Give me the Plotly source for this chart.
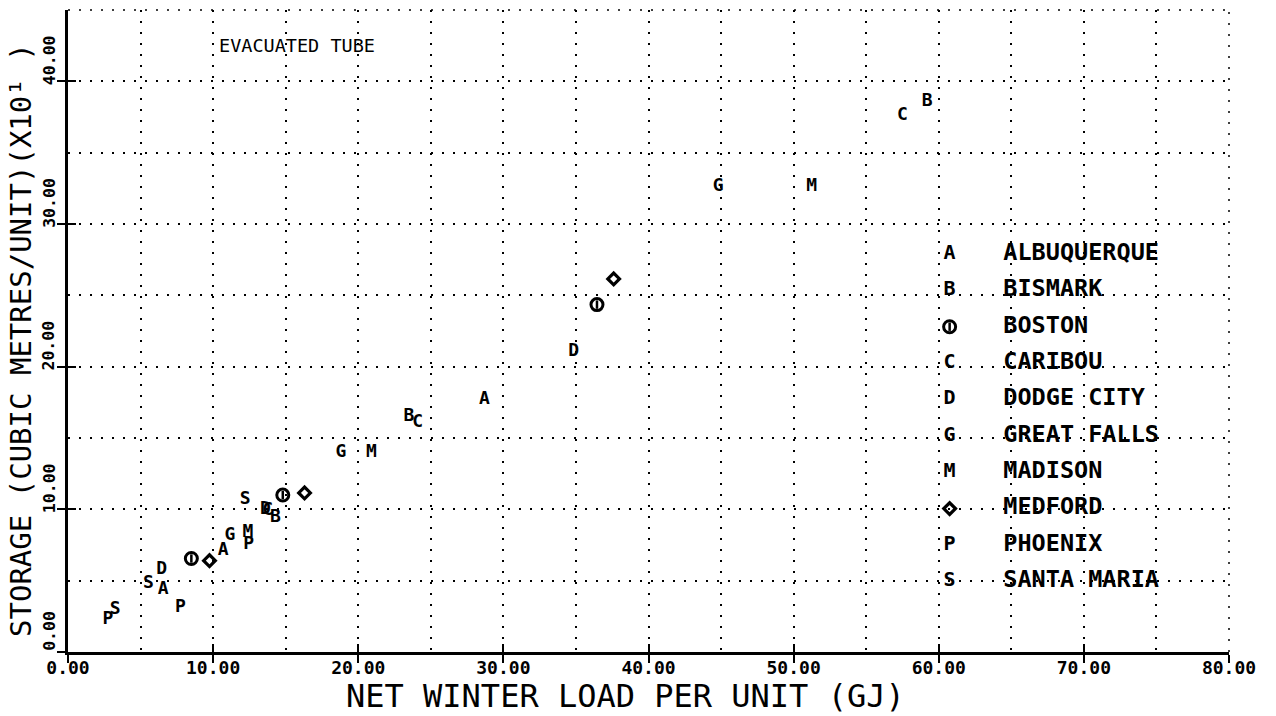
import plotly.graph_objects as go

# ---------------- data ----------------
cities = ["ALBUQUERQUE", "BISMARK", "BOSTON", "CARIBOU", "DODGE CITY",
          "GREAT FALLS", "MADISON", "MEDFORD", "PHOENIX", "SANTA MARIA"]
letters = ["A", "B", None, "C", "D", "G", "M", None, "P", "S"]

alb_x = [6.55, 10.7, 28.7];   alb_y = [4.4, 7.1, 17.7]
bis_x = [14.3, 23.5, 59.2];   bis_y = [9.45, 16.5, 38.6]
bos_x = [8.5, 14.8, 36.45];   bos_y = [6.55, 11.0, 24.35]
car_x = [13.75, 24.1, 57.5];  car_y = [9.95, 16.1, 37.6]
dod_x = [13.6, 6.45, 34.85];  dod_y = [10.0, 5.8, 21.05]
grf_x = [11.15, 18.8, 44.8];  grf_y = [8.2, 14.0, 32.6]
mad_x = [12.4, 20.9, 51.25];  mad_y = [8.35, 14.0, 32.6]
med_x = [9.75, 16.3, 37.6];   med_y = [6.4, 11.15, 26.15]
pho_x = [2.75, 7.75, 12.45];  pho_y = [2.25, 3.15, 7.55]
stm_x = [3.25, 5.55, 12.2];   stm_y = [3.0, 4.8, 10.7]

series_x = [alb_x, bis_x, bos_x, car_x, dod_x, grf_x, mad_x, med_x, pho_x, stm_x]
series_y = [alb_y, bis_y, bos_y, car_y, dod_y, grf_y, mad_y, med_y, pho_y, stm_y]

x_ticks = [0, 10, 20, 30, 40, 50, 60, 70, 80]
y_ticks = [0, 10, 20, 30, 40]
x_ticktext = ["0.00", "10.00", "20.00", "30.00", "40.00", "50.00", "60.00", "70.00", "80.00"]
y_ticktext = ["0.00", "10.00", "20.00", "30.00", "40.00"]

title_text = "EVACUATED TUBE"
x_title = "NET WINTER LOAD PER UNIT (GJ)"
y_title = "STORAGE (CUBIC METRES/UNIT)(X10¹ )"

# ---------------- styling ----------------
MONO = "DejaVu Sans Mono"
BLACK = "black"

LEG_X = 60.75      # legend symbol column (data units)
LEG_NAME_X = 64.45 # legend text column
LEG_TOP = 27.9
LEG_STEP = 2.55

BOSTON_OUTER = dict(symbol="circle-open", size=12, color=BLACK, line=dict(width=3, color=BLACK))
BOSTON_INNER = dict(symbol="line-ns-open", size=6, color=BLACK, line=dict(width=2.5, color=BLACK))
MEDFORD_MK = dict(symbol="diamond-open", size=9, color=BLACK, line=dict(width=3.2, color=BLACK))

fig = go.Figure()


def add_symbol(xs, ys, name, letter, size):
    if name == "BOSTON":
        fig.add_trace(go.Scatter(x=xs, y=ys, mode="markers", marker=BOSTON_OUTER,
                                 hoverinfo="skip", showlegend=False))
        fig.add_trace(go.Scatter(x=xs, y=ys, mode="markers", marker=BOSTON_INNER,
                                 hoverinfo="skip", showlegend=False))
    elif name == "MEDFORD":
        fig.add_trace(go.Scatter(x=xs, y=ys, mode="markers", marker=MEDFORD_MK,
                                 hoverinfo="skip", showlegend=False))
    else:
        fig.add_trace(go.Scatter(x=xs, y=ys, mode="text", text=[letter] * len(xs),
                                 textposition="middle center",
                                 textfont=dict(family=MONO, size=size, color=BLACK, weight="bold"),
                                 hoverinfo="skip", showlegend=False))


# draw in reverse list order so earlier cities sit on top where symbols overlap
for i in reversed(range(len(cities))):
    add_symbol(series_x[i], series_y[i], cities[i], letters[i], 18)

# ---------------- custom legend ----------------
leg_y = [LEG_TOP - k * LEG_STEP for k in range(len(cities))]
for i, name in enumerate(cities):
    add_symbol([LEG_X], [leg_y[i]], name, letters[i], 20)
fig.add_trace(go.Scatter(x=[LEG_NAME_X] * len(cities), y=leg_y, mode="text", text=cities,
                         textposition="middle right",
                         textfont=dict(family=MONO, size=23.5, color=BLACK, weight="bold"),
                         hoverinfo="skip", showlegend=False))

GRID_DASH = "2px,9px"

# y tick labels: rotated, starting at the tick and reading upward
y_label_annots = [
    dict(text=t, x=-0.0165, y=v, xref="paper", yref="y", textangle=-90,
         xanchor="center", yanchor="middle", yshift=21, showarrow=False,
         font=dict(family=MONO, size=16.5, color=BLACK, weight="bold"))
    for v, t in zip(y_ticks, y_ticktext)
]

fig.update_layout(
    width=1276, height=716,
    margin=dict(l=60, r=55, t=2, b=72, autoexpand=False),
    paper_bgcolor="white", plot_bgcolor="white",
    showlegend=False,
    xaxis=dict(range=[0, 80], tickvals=x_ticks, ticktext=x_ticktext,
               showgrid=True, gridcolor=BLACK, gridwidth=1.5, griddash=GRID_DASH,
               minor=dict(dtick=5, tick0=0, showgrid=True, gridcolor=BLACK,
                          gridwidth=1.5, griddash=GRID_DASH, ticks=""),
               showline=True, linecolor=BLACK, linewidth=3,
               ticks="outside", ticklen=8, tickwidth=2, tickcolor=BLACK,
               ticklabelstandoff=-11,
               tickfont=dict(family=MONO, size=18, color=BLACK, weight="bold"),
               zeroline=False, automargin=False, fixedrange=True),
    yaxis=dict(range=[0, 45], tickvals=y_ticks, showticklabels=False,
               showgrid=True, gridcolor=BLACK, gridwidth=1.5, griddash=GRID_DASH,
               minor=dict(dtick=5, tick0=0, showgrid=True, gridcolor=BLACK,
                          gridwidth=1.5, griddash=GRID_DASH, ticks=""),
               showline=True, linecolor=BLACK, linewidth=3,
               ticks="outside", ticklen=8, tickwidth=2, tickcolor=BLACK,
               zeroline=False, automargin=False, fixedrange=True),
    xaxis2=dict(range=[0, 80], overlaying="x", anchor="y", side="bottom",
                tickvals=x_ticks, showticklabels=False, showgrid=False, showline=False,
                ticks="inside", ticklen=8, tickwidth=2, tickcolor=BLACK, zeroline=False),
    yaxis2=dict(range=[0, 45], overlaying="y", anchor="x", side="left",
                tickvals=y_ticks, showticklabels=False, showgrid=False, showline=False,
                ticks="inside", ticklen=8, tickwidth=2, tickcolor=BLACK, zeroline=False),
    shapes=[
        dict(type="line", xref="paper", yref="paper", x0=0, x1=1, y0=1, y1=1,
             line=dict(color=BLACK, width=1.5, dash=GRID_DASH)),
        dict(type="line", xref="paper", yref="paper", x0=1, x1=1, y0=0, y1=1,
             line=dict(color=BLACK, width=1.5, dash=GRID_DASH)),
    ],
    annotations=[
        dict(text=title_text, x=10.25, y=42.5, xref="x", yref="y",
             xanchor="left", yanchor="middle", showarrow=False,
             font=dict(family=MONO, size=18.5, color=BLACK)),
        dict(text=x_title, x=0.48, y=-0.069, xref="paper", yref="paper",
             xanchor="center", yanchor="middle", showarrow=False,
             font=dict(family=MONO, size=32, color=BLACK)),
        dict(text=y_title, x=-0.0405, y=0.486, xref="paper", yref="paper",
             xanchor="center", yanchor="middle", showarrow=False, textangle=-90,
             font=dict(family=MONO, size=29, color=BLACK)),
    ] + y_label_annots,
)

# invisible trace to make overlay axes render
fig.add_trace(go.Scatter(x=[None], y=[None], xaxis="x2", yaxis="y2", mode="markers",
                         hoverinfo="skip", showlegend=False))

fig.write_html("out.html")
